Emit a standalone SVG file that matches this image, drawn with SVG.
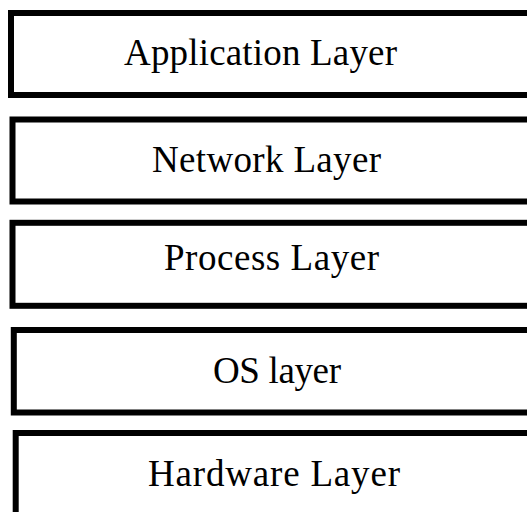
<svg xmlns="http://www.w3.org/2000/svg" width="527" height="512" viewBox="0 0 527 512">
  <style>
    .box { fill: #ffffff; stroke: #000000; stroke-width: 6; }
    .label { font-family: "Liberation Serif", "Times New Roman", serif; font-size: 37px; fill: #000000; }
  </style>
  <rect width="527" height="512" fill="#ffffff"/>
  <!-- layer stack, top to bottom; boxes run past the right edge -->
  <g id="application-layer">
    <rect class="box" x="11" y="13" width="540" height="82"/>
    <text class="label" x="124" y="65" textLength="273">Application Layer</text>
  </g>
  <g id="network-layer">
    <rect class="box" x="12.5" y="119.5" width="540" height="82"/>
    <text class="label" x="152" y="172" textLength="229">Network Layer</text>
  </g>
  <g id="process-layer">
    <rect class="box" x="12.5" y="222.8" width="540" height="83"/>
    <text class="label" x="164" y="270" textLength="215">Process Layer</text>
  </g>
  <g id="os-layer">
    <rect class="box" x="13.8" y="330" width="540" height="82.5"/>
    <text class="label" x="213" y="383" textLength="128">OS layer</text>
  </g>
  <g id="hardware-layer">
    <rect class="box" x="15.7" y="433" width="540" height="100"/>
    <text class="label" x="148" y="486" textLength="252">Hardware Layer</text>
  </g>
  <g id="connectors"/>
</svg>
